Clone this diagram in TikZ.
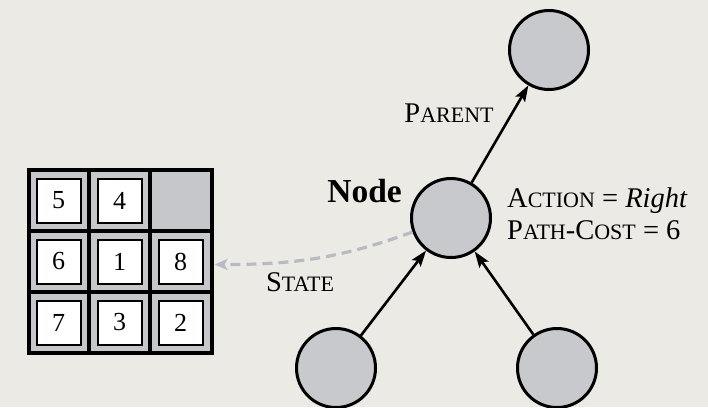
\documentclass[tikz,border=0pt]{standalone}
\usepackage{fontspec}
\setmainfont{Liberation Serif}
\usetikzlibrary{arrows.meta}
\definecolor{bgcol}{HTML}{EBEAE5}
\definecolor{nodefill}{HTML}{C8C9CC}
\definecolor{framegray}{HTML}{C6C7CA}
\definecolor{dashgray}{HTML}{B8BBC2}
\newcommand{\capsc}[2]{#1{\fontsize{22pt}{22pt}\selectfont #2}}
\tikzset{
  treenode/.style={circle, draw=black, line width=3pt, fill=nodefill, minimum size=79pt, inner sep=0pt},
  edgearrow/.style={line width=2.6pt, -{Stealth[length=16pt,width=11pt,inset=3pt]}},
  tile/.style={draw=black, line width=2pt, fill=white, minimum size=44pt, inner sep=0pt,
    font=\fontsize{26pt}{26pt}\selectfont},
  lbl/.style={font=\fontsize{28.5pt}{28.5pt}\selectfont, inner sep=0pt},
  statearrow/.style={draw=dashgray, line width=3.2pt, dash pattern=on 10pt off 6pt,
    -{Stealth[length=13pt,width=11pt,inset=3pt]}}
}
\begin{document}
\begin{tikzpicture}[x=1pt,y=-1pt]
  \fill[bgcol] (0,0) rectangle (708,407);
  \useasboundingbox (0,0) rectangle (708,407);

  % search tree
  \node[treenode] (p) at (549,50) {};
  \node[treenode] (n) at (451,218) {};
  \node[treenode] (c1) at (336,368) {};
  \node[treenode] (c2) at (557,368) {};
  \draw[edgearrow] (n) -- (p);
  \draw[edgearrow] (c1) -- (n);
  \draw[edgearrow] (c2) -- (n);

  % labels
  \node[lbl, anchor=base] (lp) at (449,122) {\capsc{P}{ARENT}};
  \node[lbl, anchor=base east, font=\fontsize{33.5pt}{33.5pt}\selectfont\bfseries] (ln) at (402,202) {Node};
  \node[lbl, anchor=base west] (la) at (507,207) {\capsc{A}{CTION} = \textit{Right}};
  \node[lbl, anchor=base west] (lc) at (507,239) {\capsc{P}{ATH}-\capsc{C}{OST} = 6};
  \node[lbl, anchor=base] (ls) at (300,291) {\capsc{S}{TATE}};

  % 8-puzzle board
  \node[draw=black, line width=4pt, fill=framegray, minimum size=183pt, inner sep=0pt] (board) at (120,261.5) {};
  \foreach \k in {1,2} {
    \draw[line width=3.5pt] (28+61*\k,170) -- (28+61*\k,353);
    \draw[line width=3.5pt] (28,170+61*\k) -- (212,170+61*\k);
  }
  \node[tile] (t5) at (58.5,200.5) {5};
  \node[tile] (t4) at (119.5,200.5) {4};
  \node[tile] (t6) at (58.5,261.5) {6};
  \node[tile] (t1) at (119.5,261.5) {1};
  \node[tile] (t8) at (180.5,261.5) {8};
  \node[tile] (t7) at (58.5,322.5) {7};
  \node[tile] (t3) at (119.5,322.5) {3};
  \node[tile] (t2) at (180.5,322.5) {2};

  % state link
  \draw[statearrow] (n.200) to[out=200, in=0] ([xshift=1pt,yshift=-3pt]board.east);
\end{tikzpicture}
\end{document}
